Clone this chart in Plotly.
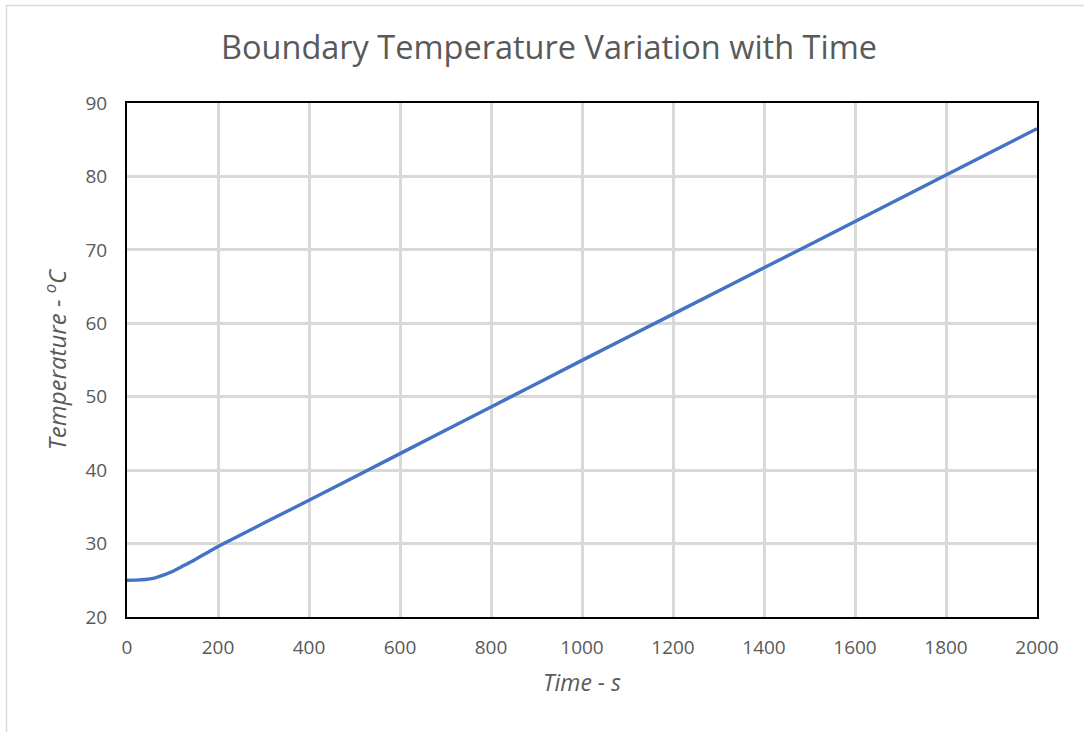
import plotly.graph_objects as go

time_s = [0, 20, 40, 60, 80, 100, 120, 140, 160, 180, 200, 400, 600, 800, 1000, 1200, 1400, 1600, 1800, 2000]
temp_c = [25.0, 25.02, 25.1, 25.3, 25.7, 26.2, 26.85, 27.5, 28.2, 28.9, 29.6, 35.9, 42.25, 48.6, 54.95, 61.25, 67.55, 73.85, 80.2, 86.5]

title_text = "Boundary Temperature Variation with Time"
x_title = "Time - s"
y_title = "Temperature - <sup>o</sup>C"

fig = go.Figure()
fig.add_trace(go.Scatter(x=time_s, y=temp_c, mode="lines", line=dict(color="#4472C4", width=3.4, shape="spline", smoothing=0.6), showlegend=False, hoverinfo="x+y"))

font_fam = "Open Sans, Noto Sans, sans-serif"
fig.update_layout(
    width=1084, height=732,
    paper_bgcolor="white", plot_bgcolor="white",
    margin=dict(l=127, r=47, t=103, b=115),
    title=dict(text=title_text, x=549/1084, xanchor="center", y=1 - 48/732, yanchor="middle",
               font=dict(family=font_fam, size=32.5, color="#595959")),
    font=dict(family=font_fam, color="#595959"),
    xaxis=dict(range=[0, 2000], tickmode="linear", tick0=0, dtick=200,
               showgrid=True, gridcolor="#D9D9D9", gridwidth=3,
               showline=True, linecolor="black", linewidth=2, mirror=True,
               ticks="", tickfont=dict(size=19, color="#595959"), zeroline=False,
               ticklabelstandoff=12,
               title=dict(text="<i>" + x_title + "</i>", font=dict(size=23, color="#595959"), standoff=16)),
    yaxis=dict(range=[20, 90], tickmode="linear", tick0=20, dtick=10,
               showgrid=True, gridcolor="#D9D9D9", gridwidth=3,
               showline=True, linecolor="black", linewidth=2, mirror=True,
               ticks="", tickfont=dict(size=19, color="#595959"), zeroline=False,
               ticklabelstandoff=14,
               title=dict(text="<i>" + y_title + "</i>", font=dict(size=24, color="#595959"), standoff=12)),
    shapes=[dict(type="rect", xref="paper", yref="paper",
                 x0=-120.5/910, x1=(1095-127)/910, y0=-(745-617)/514, y1=(617-5.5)/514,
                 line=dict(color="#D9D9D9", width=1.5), fillcolor="rgba(0,0,0,0)", layer="below")],
)

fig.write_html("out.html", config={"displayModeBar": False},
               post_script="document.body.style.margin='0';document.body.style.padding='0';")
